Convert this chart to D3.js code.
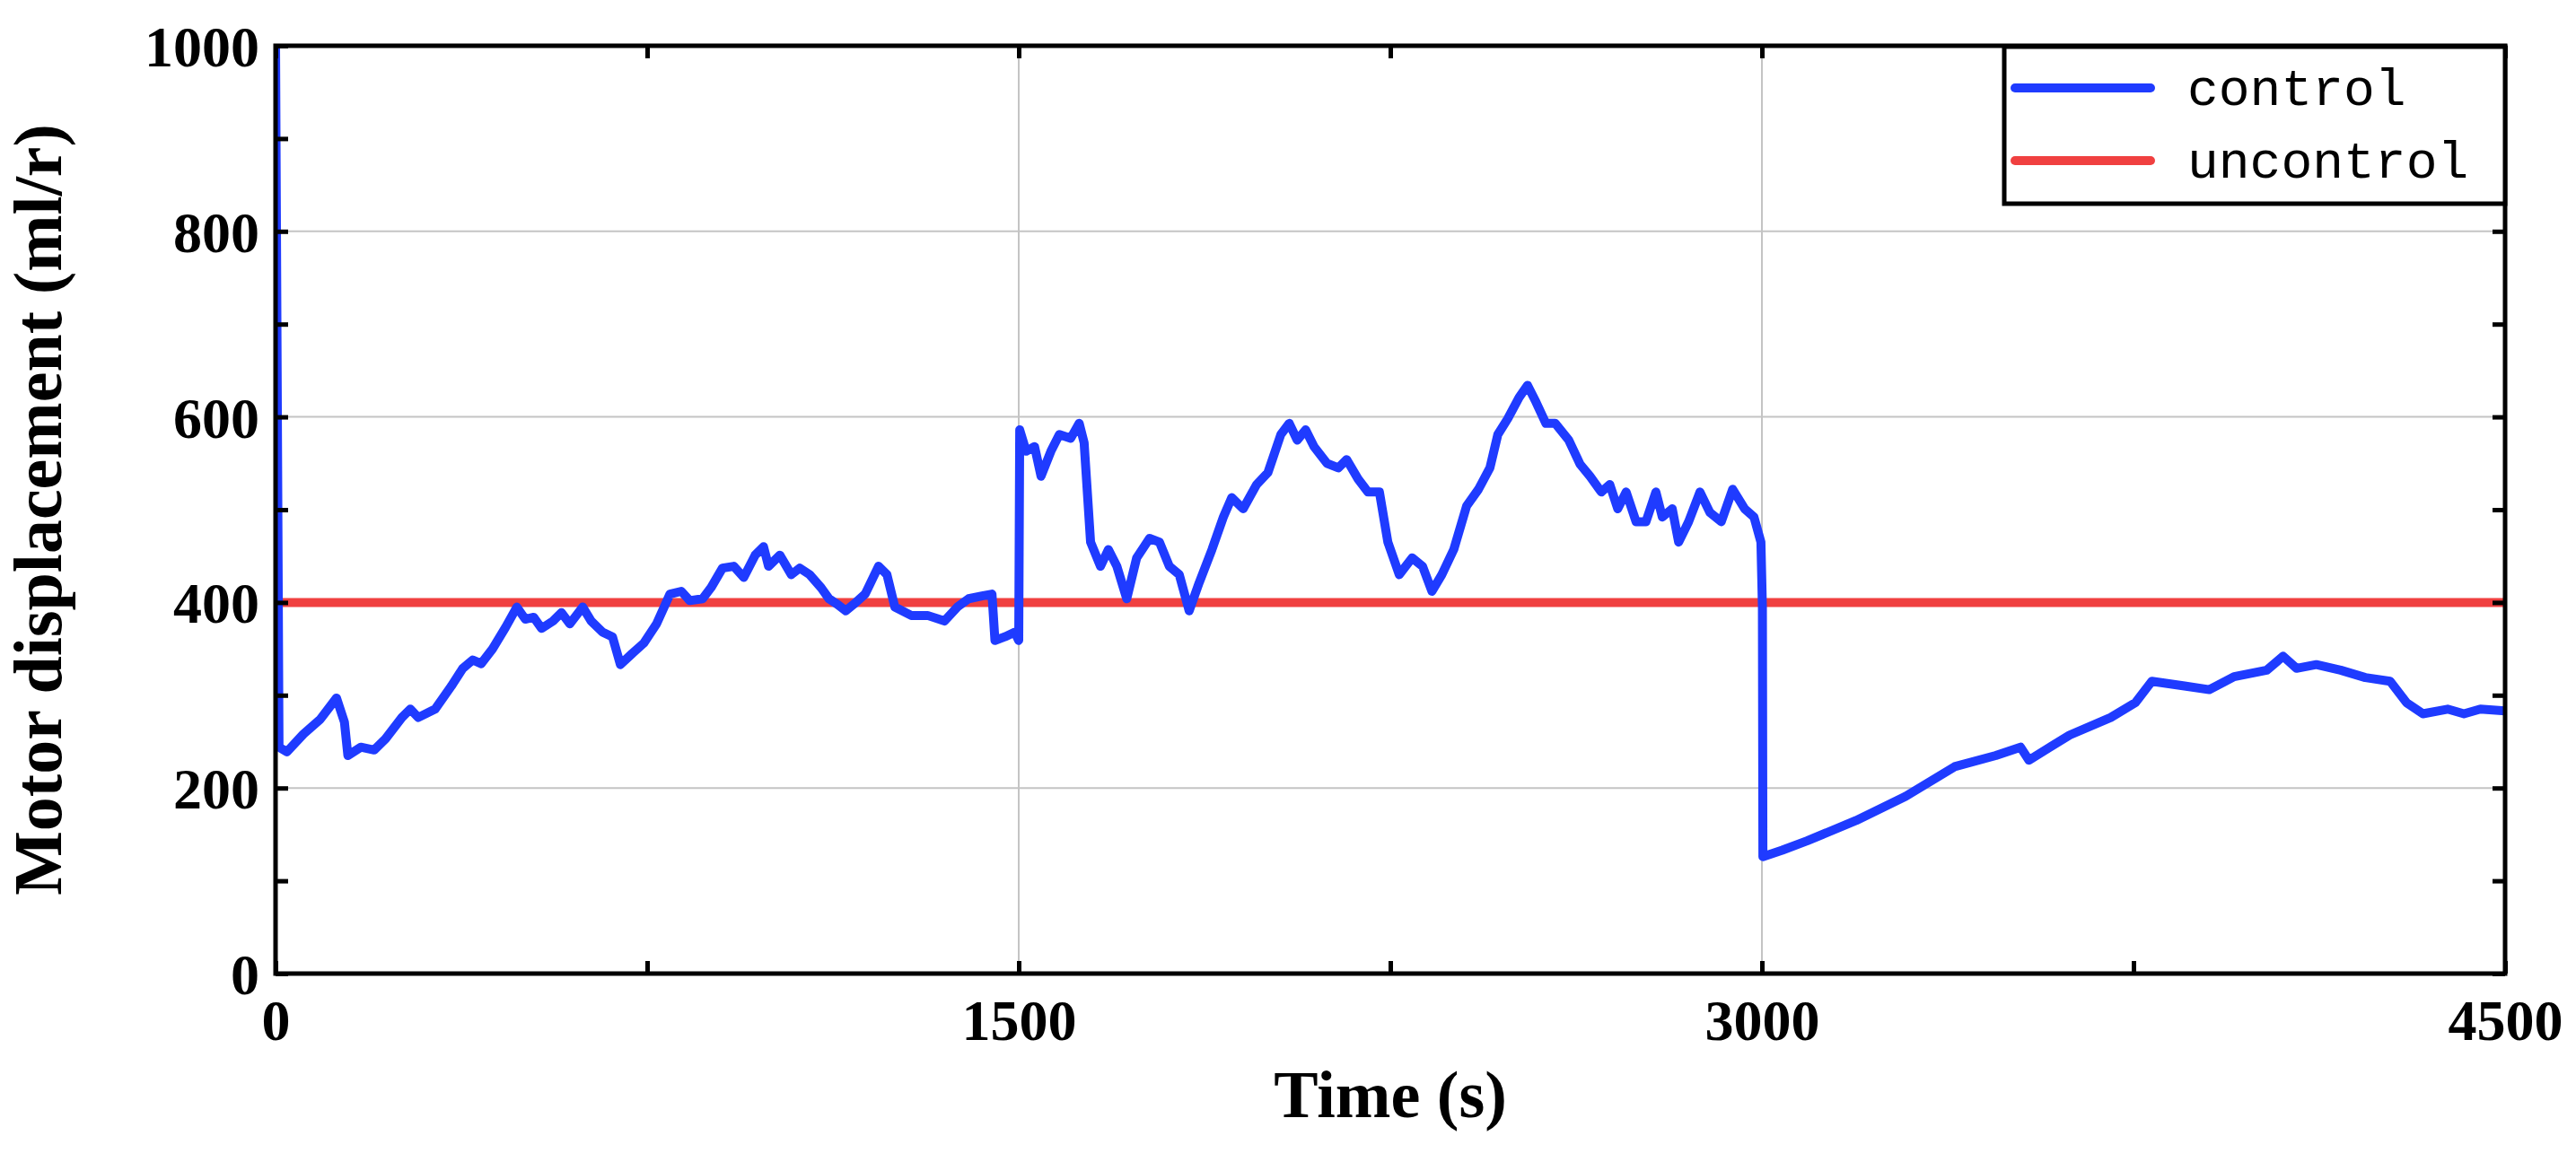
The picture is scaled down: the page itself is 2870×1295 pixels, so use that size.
<!DOCTYPE html><html><head><meta charset="utf-8"><script src="https://d3js.org/d3.v7.min.js"></script>
<style>body{margin:0;background:#fff}</style></head><body><svg id="c" width="2870" height="1295"></svg><script>
const time=[0,7,23,56,90,123,139,146,172,199,222,255,272,288,322,355,378,398,415,438,464,487,504,521,537,560,577,594,620,637,660,680,696,720,743,769,796,819,836,862,879,902,925,945,968,985,995,1018,1041,1058,1078,1101,1117,1134,1151,1167,1190,1217,1234,1250,1283,1316,1350,1376,1399,1426,1446,1452,1472,1492,1500,1502,1515,1532,1545,1565,1582,1605,1622,1632,1645,1665,1681,1698,1718,1738,1764,1784,1804,1824,1844,1864,1890,1913,1930,1953,1980,2003,2029,2046,2062,2079,2096,2122,2145,2162,2185,2205,2228,2245,2268,2294,2315,2334,2354,2378,2404,2428,2451,2467,2487,2510,2527,2544,2564,2583,2610,2633,2653,2676,2693,2709,2726,2746,2766,2786,2799,2819,2832,2852,2875,2895,2918,2941,2965,2984,2998,3001,3002,3041,3091,3190,3290,3389,3472,3522,3539,3621,3704,3754,3787,3853,3903,3953,4019,4052,4079,4119,4168,4218,4268,4301,4334,4384,4417,4450,4500];
const control=[1000,244,239,258,274,297,271,235,244,241,253,276,285,276,285,310,329,338,334,350,373,395,382,384,372,380,389,377,395,380,368,363,333,345,356,377,409,412,402,404,416,437,439,427,451,460,439,451,430,437,430,416,404,398,391,398,409,439,430,395,386,386,380,395,404,407,409,359,363,368,359,586,563,568,536,563,581,577,593,572,465,439,457,439,404,448,469,465,439,430,391,421,457,492,513,501,527,540,581,593,575,586,568,550,545,554,533,519,519,465,430,448,439,412,430,457,504,522,545,581,598,621,634,616,593,593,575,549,536,519,527,501,519,487,487,519,492,501,465,487,519,497,487,522,501,492,465,395,126,133,143,165,191,223,235,244,230,257,276,292,315,310,306,320,327,342,329,333,327,319,315,292,280,285,280,285,283];
const uncontrol=[400,400];
const unTime=[0,4500];
const xTicks=[0,1500,3000,4500], yTicks=[0,200,400,600,800,1000];
const series=["control","uncontrol"], colors=["#1f3bff","#f04040"];

const svg=d3.select("#c");
const L=307,R=2791,T=51,B=1085;
const x=d3.scaleLinear().domain([0,4500]).range([L,R]);
const y=d3.scaleLinear().domain([0,1000]).range([B,T]);
const g=svg.append("g");
g.selectAll(".gx").data(xTicks.slice(1,-1)).join("line").attr("x1",x).attr("x2",x).attr("y1",T).attr("y2",B).attr("stroke","#c4c4c4").attr("stroke-width",2);
g.selectAll(".gy").data(yTicks.slice(1,-1)).join("line").attr("y1",y).attr("y2",y).attr("x1",L).attr("x2",R).attr("stroke","#c4c4c4").attr("stroke-width",2);
svg.append("clipPath").attr("id","cp").append("rect").attr("x",L).attr("y",T-4).attr("width",R-L).attr("height",B-T+4);
const line=d3.line().x(d=>x(d[0])).y(d=>y(d[1]));
svg.append("path").attr("clip-path","url(#cp)").attr("d",line(unTime.map((t,i)=>[t,uncontrol[i]]))).attr("stroke",colors[1]).attr("stroke-width",10).attr("fill","none");
svg.append("path").attr("clip-path","url(#cp)").attr("d",line(time.map((t,i)=>[t,control[i]]))).attr("stroke",colors[0]).attr("stroke-width",10).attr("fill","none").attr("stroke-linejoin","round");
const font="'Liberation Serif','Times New Roman',serif";
const ax=svg.append("g").attr("transform",`translate(0,${B})`).call(d3.axisBottom(x).tickValues(d3.range(0,4501,750)).tickSize(-14).tickPadding(20).tickFormat(d=>xTicks.includes(d)?d:""));
const ax2=svg.append("g").attr("transform",`translate(0,${T})`).call(d3.axisTop(x).tickValues(d3.range(0,4501,750)).tickSize(-14).tickFormat(""));
const ay=svg.append("g").attr("transform",`translate(${L},0)`).call(d3.axisLeft(y).tickValues(d3.range(0,1001,100)).tickSize(-14).tickPadding(18).tickFormat(d=>yTicks.includes(d)?d:""));
const ay2=svg.append("g").attr("transform",`translate(${R},0)`).call(d3.axisRight(y).tickValues(d3.range(0,1001,100)).tickSize(-14).tickFormat(""));
[ax,ax2,ay,ay2].forEach(a=>{a.select(".domain").remove();a.selectAll("line").attr("stroke","#000").attr("stroke-width",5);a.selectAll("text").attr("font-family",font).attr("font-weight","bold").attr("font-size",64).attr("fill","#000");});
ax.selectAll("text").attr("dy","0.85em");
ay.selectAll("text").attr("dy","0.35em");
svg.append("rect").attr("x",L).attr("y",T).attr("width",R-L).attr("height",B-T).attr("fill","none").attr("stroke","#000").attr("stroke-width",5);
svg.append("text").attr("x",(L+R)/2).attr("y",1245).attr("text-anchor","middle").attr("font-family",font).attr("font-weight","bold").attr("font-size",74).text("Time (s)");
svg.append("text").attr("transform",`translate(68,${(T+B)/2}) rotate(-90)`).attr("text-anchor","middle").attr("font-family",font).attr("font-weight","bold").attr("font-size",76).text("Motor displacement (ml/r)");
svg.append("rect").attr("x",2233).attr("y",52).attr("width",R-2233).attr("height",175).attr("fill","#fff").attr("stroke","#000").attr("stroke-width",5);
series.forEach((s,i)=>{const yy=98+i*81;
svg.append("line").attr("x1",2245).attr("x2",2396).attr("y1",yy).attr("y2",yy).attr("stroke",colors[i]).attr("stroke-width",10).attr("stroke-linecap","round");
svg.append("text").attr("x",2437).attr("y",yy+19).attr("font-family","'Liberation Mono','DejaVu Sans Mono',monospace").attr("font-size",58).text(s);});
</script></body></html>
